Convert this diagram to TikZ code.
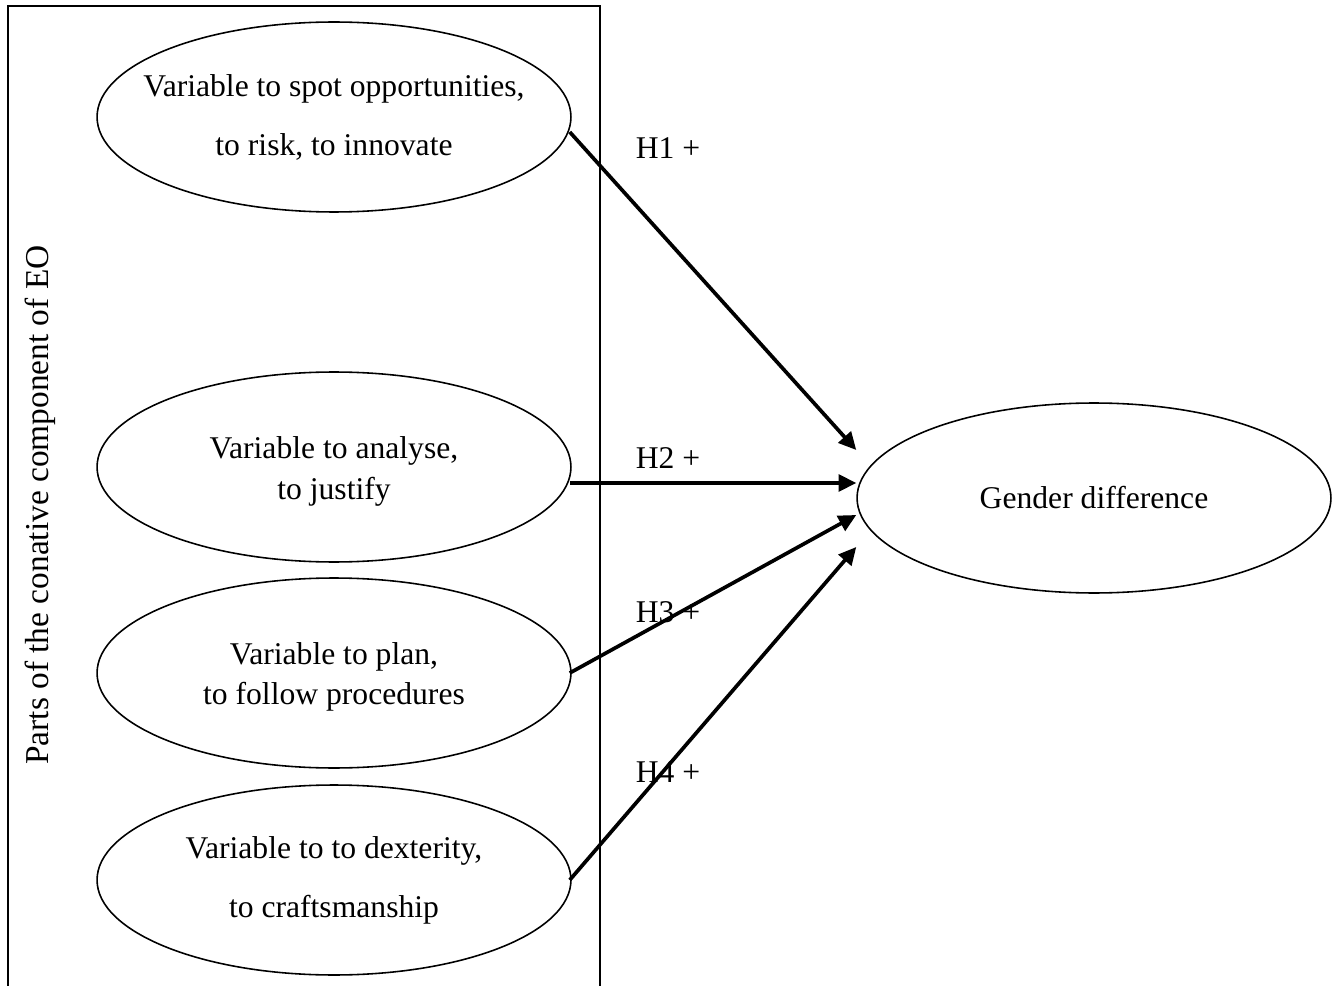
\documentclass[tikz,border=0pt]{standalone}
\usepackage{fontspec}
\setmainfont{Liberation Serif}
\usepackage{tikz}
\usetikzlibrary{shapes.geometric, arrows.meta, positioning, calc}
\tikzstyle{varellipse} = [ellipse, draw=black, line width=0.9pt, minimum width=9.48cm, minimum height=3.8cm, inner xsep=-1cm, inner ysep=0pt, align=center, font=\fontsize{18}{21.6}\selectfont]
\tikzstyle{partsframe} = [draw=black, line width=0.9pt]
\tikzstyle{hyp} = [font=\fontsize{18}{21.6}\selectfont, inner sep=0pt]
\tikzstyle{arrow} = [line width=2.1pt, -{Triangle[length=10pt, width=9.5pt]}]

\begin{document}
\begin{tikzpicture}[x=0.02cm, y=-0.02cm]
    \useasboundingbox (0,0) rectangle (1335,986);
    % open frame around the conative parts
    \coordinate (fbl) at (8,986);
    \coordinate (ftl) at (8,6);
    \coordinate (ftr) at (600,6);
    \coordinate (fbr) at (600,986);
    \draw [partsframe] (fbl) -- (ftl) -- (ftr) -- (fbr);
    \node (parts) [hyp, font=\fontsize{19}{23}\selectfont, rotate=90] at (40,505) {Parts of the conative component of EO};

    \node (spot) [varellipse] at (334,117) {Variable to spot opportunities,\\[12pt] to risk, to innovate};
    \node (analyse) [varellipse] at (334,467) {\\[-4pt]Variable to analyse,\\[2pt] to justify};
    \node (plan) [varellipse] at (334,673) {\\[-5pt]Variable to plan,\\[1pt] to follow procedures};
    \node (craft) [varellipse] at (334,880) {Variable to to dexterity,\\[12pt] to craftsmanship};
    \node (gender) [varellipse] at (1094,498) {Gender difference};

    \node (h1) [hyp] at (668,148) {H1 +};
    \node (h2) [hyp] at (668,458) {H2 +};
    \node (h3) [hyp] at (668,612) {H3 +};
    \node (h4) [hyp] at (668,772) {H4 +};

    \draw [arrow] ($(spot.east)+(-2,15)$) -- ($(gender.west)+(0,-48)$);
    \draw [arrow] ($(analyse.east)+(-2,16)$) -- ($(gender.west)+(0,-15)$);
    \draw [arrow] ($(plan.east)+(-2,0)$) -- ($(gender.west)+(0,17)$);
    \draw [arrow] ($(craft.east)+(-2,0)$) -- ($(gender.west)+(0,49)$);
\end{tikzpicture}
\end{document}
